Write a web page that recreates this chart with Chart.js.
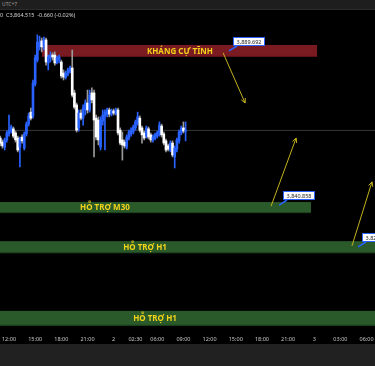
<!DOCTYPE html>
<html>
<head>
<meta charset="utf-8">
<script src="https://cdn.jsdelivr.net/npm/chart.js@4.4.1/dist/chart.umd.min.js"></script>
<style>
  html, body { margin: 0; padding: 0; background: #000; }
  #wrap { position: relative; width: 375px; height: 366px; overflow: hidden; background: #000; }
  #chart { position: absolute; left: 0; top: 0; }
  #topbar { position: absolute; left: 0; top: 0; width: 375px; height: 10px; background: #1e1e1e;
            border-bottom: 1px solid #2c2c2c; box-sizing: border-box; color: #9a9a9a;
            font: 5px "Noto Sans", sans-serif; line-height: 9px; padding-left: 2px; }
  #legend { position: absolute; left: 0; top: 12px; color: #d6d6d6; font: 5.5px "Noto Sans", sans-serif;
            line-height: 7px; white-space: pre; }
  #bottombar { position: absolute; left: 0; top: 344px; width: 375px; height: 22px; background: #212121; }
</style>
</head>
<body>
<div id="wrap">
  <canvas id="chart" width="375" height="366"></canvas>
  <div id="topbar">UTC+7</div>
  <div id="legend">0  C3,864.515  -0.660 (-0.02%)</div>
  <div id="bottombar"></div>
</div>
<script>
// 15-minute candle slots (0 = 12:00 first day)
const slots = [
  -4, -3, -2, -1, 0, 1, 2, 3, 4, 5,
  6, 7, 8, 9, 10, 11, 12, 13, 14, 15,
  16, 17, 18, 19, 20, 21, 22, 23, 24, 25,
  26, 27, 28, 29, 30, 31, 32, 33, 34, 35,
  36, 37, 38, 39, 40, 41, 42, 43, 44, 45,
  46, 47, 48, 49, 50, 51, 52, 53, 54, 55,
  56, 57, 58, 59, 60, 61, 62, 63, 64, 65,
  66, 67, 68, 69, 70, 71, 72, 73, 74, 75,
  76, 77, 78, 79, 80, 81
];

const openPrices = [
  3862.1, 3860.8, 3859.2, 3861.5, 3863.4, 3864.3, 3865.0, 3863.7, 3862.1, 3859.2,
  3862.4, 3858.9, 3863.4, 3866.5, 3870.3, 3869.1, 3879.2, 3886.8, 3891.0, 3892.9,
  3891.3, 3893.2, 3885.9, 3887.5, 3888.4, 3888.4, 3886.2, 3886.8, 3886.2, 3882.7,
  3881.4, 3882.4, 3883.3, 3884.3, 3876.4, 3872.6, 3865.3, 3870.0, 3868.4, 3871.0,
  3873.2, 3871.0, 3876.4, 3876.4, 3868.4, 3867.8, 3859.2, 3867.5, 3869.1, 3869.7,
  3871.0, 3869.7, 3870.7, 3870.0, 3871.0, 3864.6, 3861.5, 3860.8, 3859.2, 3862.1,
  3863.4, 3864.0, 3865.3, 3866.9, 3868.4, 3865.3, 3863.7, 3862.7, 3865.0, 3863.1,
  3861.5, 3862.1, 3862.7, 3863.4, 3865.9, 3863.4, 3861.2, 3859.6, 3858.3, 3860.5,
  3856.1, 3858.6, 3861.2, 3863.7, 3865.3, 3864.3
];
const highPrices = [
  3862.7, 3861.5, 3862.1, 3864.3, 3869.4, 3866.2, 3865.6, 3864.3, 3862.7, 3862.4,
  3863.1, 3864.0, 3867.2, 3870.0, 3871.6, 3880.5, 3888.4, 3894.8, 3894.4, 3893.8,
  3894.1, 3893.8, 3888.4, 3889.4, 3889.1, 3889.4, 3888.1, 3888.4, 3886.8, 3883.7,
  3883.3, 3884.3, 3884.9, 3890.0, 3877.3, 3873.2, 3871.0, 3871.0, 3872.6, 3874.2,
  3877.3, 3877.3, 3878.0, 3877.3, 3869.4, 3868.8, 3868.8, 3871.0, 3871.0, 3871.6,
  3871.6, 3871.3, 3871.3, 3871.6, 3871.6, 3865.3, 3864.0, 3861.5, 3863.1, 3864.6,
  3865.3, 3866.2, 3867.8, 3870.3, 3869.1, 3865.9, 3864.3, 3865.9, 3865.6, 3863.7,
  3863.1, 3863.7, 3864.3, 3867.2, 3866.5, 3864.0, 3861.8, 3860.2, 3861.2, 3861.2,
  3859.6, 3862.1, 3864.6, 3865.9, 3867.2, 3867.2
];
const lowPrices = [
  3859.6, 3858.9, 3858.3, 3860.8, 3862.7, 3863.7, 3862.1, 3860.8, 3857.7, 3852.9,
  3860.5, 3858.3, 3862.7, 3865.9, 3867.8, 3868.4, 3878.6, 3886.2, 3890.0, 3889.4,
  3890.0, 3885.2, 3883.7, 3886.2, 3886.8, 3885.2, 3885.6, 3885.9, 3881.1, 3880.5,
  3880.8, 3881.8, 3882.7, 3875.1, 3871.3, 3864.0, 3864.3, 3867.8, 3866.2, 3869.4,
  3870.0, 3870.3, 3873.2, 3856.1, 3861.5, 3859.9, 3858.3, 3866.2, 3858.3, 3868.8,
  3868.8, 3869.1, 3869.4, 3869.4, 3863.1, 3859.9, 3855.1, 3858.9, 3858.6, 3861.5,
  3862.7, 3863.4, 3864.6, 3866.2, 3864.0, 3860.5, 3861.5, 3862.1, 3861.8, 3860.8,
  3860.8, 3861.5, 3862.1, 3862.7, 3862.4, 3859.9, 3857.7, 3858.0, 3857.7, 3856.1,
  3852.6, 3857.7, 3860.5, 3863.1, 3863.7, 3861.2
];
const closePrices = [
  3860.5, 3859.6, 3861.5, 3863.7, 3864.6, 3865.6, 3862.7, 3861.5, 3858.3, 3861.8,
  3861.2, 3863.4, 3866.5, 3869.1, 3868.4, 3879.5, 3887.5, 3892.5, 3892.5, 3891.0,
  3893.2, 3886.2, 3887.8, 3888.4, 3887.8, 3885.9, 3887.5, 3887.8, 3881.8, 3881.4,
  3882.7, 3883.7, 3884.3, 3875.7, 3871.9, 3864.6, 3870.0, 3868.4, 3871.6, 3873.2,
  3871.0, 3875.7, 3874.2, 3867.8, 3862.4, 3861.5, 3867.8, 3869.4, 3870.3, 3871.0,
  3869.7, 3870.7, 3870.0, 3871.0, 3863.7, 3860.5, 3859.9, 3859.6, 3862.4, 3864.0,
  3864.6, 3865.6, 3867.2, 3868.8, 3864.6, 3863.1, 3862.1, 3865.3, 3862.4, 3861.5,
  3862.4, 3863.1, 3863.7, 3866.2, 3863.1, 3860.5, 3858.3, 3858.6, 3860.5, 3856.7,
  3858.9, 3861.5, 3864.0, 3865.3, 3864.3, 3864.5
];

// time axis labels and the slot they sit on
const tickSlots = [0, 12, 24, 36, 48, 58, 68, 80, 92, 104, 116, 128, 140, 152, 164];
const tickLabels = ['12:00', '15:00', '18:00', '21:00', '2', '02:30', '06:00', '09:00',
                    '12:00', '15:00', '18:00', '21:00', '3', '03:00', '06:00'];

// support / resistance zones
const zoneNames = ['KHÁNG CỰ TĨNH', 'HỖ TRỢ M30', 'HỖ TRỢ H1', 'HỖ TRỢ H1'];
const zoneTop = [3891.6, 3841.8, 3829.4, 3807.3];
const zoneBottom = [3887.8, 3838.3, 3825.6, 3802.6];
const zoneFrom = [15.1, -6, -6, -6];
const zoneTo = [141.3, 138.5, 175, 175];
const zoneLabelSlot = [78.4, 44.0, 62.4, 67.0];

// price callouts
const calloutText = ['3,889.692', '3,840.858', '3,827.616'];
const calloutPrice = [3889.692, 3840.858, 3827.616];
const calloutSlot = [100.9, 123.9, 160.1];

// arrows
const arrowFromSlot = [98.2, 120.2, 157.3];
const arrowFromPrice = [3889.1, 3840.5, 3827.9];
const arrowToSlot = [108.3, 131.7, 166.5];
const arrowToPrice = [3873.2, 3862.1, 3848.2];

const lastPrice = 3864.515;

const BULL = '#2962ff';
const BEAR = '#ffffff';
const isBull = openPrices.map((o, i) => closePrices[i] >= o);

const wickData = slots.map((s, i) => ({ x: s, y: [lowPrices[i], highPrices[i]] }));
const bodyData = slots.map((s, i) => ({ x: s, y: [openPrices[i], closePrices[i]] }));

const overlayPlugin = {
  id: 'overlay',
  beforeDatasetsDraw(chart) {
    const { ctx, chartArea, scales: { x, y } } = chart;
    ctx.save();
    ctx.beginPath();
    ctx.rect(chartArea.left, chartArea.top, chartArea.width, chartArea.height);
    ctx.clip();
    zoneNames.forEach((name, i) => {
      const x1 = x.getPixelForValue(zoneFrom[i]);
      const x2 = x.getPixelForValue(zoneTo[i]);
      const y1 = y.getPixelForValue(zoneTop[i]);
      const y2 = y.getPixelForValue(zoneBottom[i]);
      ctx.fillStyle = i === 0 ? '#7a1b22' : '#2a5a2a';
      ctx.fillRect(x1, y1, x2 - x1, y2 - y1);
      ctx.fillStyle = i === 0 ? '#5c1218' : '#1d401d';
      ctx.fillRect(x1, y2 - 1, x2 - x1, 1);
      ctx.fillStyle = '#f2d41a';
      ctx.font = 'bold 8px "Noto Sans"';
      ctx.textAlign = 'center';
      ctx.textBaseline = 'middle';
      ctx.fillText(name, x.getPixelForValue(zoneLabelSlot[i]), (y1 + y2) / 2 + 0.5);
    });
    ctx.restore();
  },
  afterDatasetsDraw(chart) {
    const { ctx, chartArea, scales: { x, y } } = chart;
    ctx.save();
    ctx.beginPath();
    ctx.rect(chartArea.left, chartArea.top, chartArea.width, chartArea.height);
    ctx.clip();

    // arrows
    ctx.strokeStyle = '#c4b21c';
    ctx.lineWidth = 1;
    arrowFromSlot.forEach((fs, i) => {
      const ax = x.getPixelForValue(fs), ay = y.getPixelForValue(arrowFromPrice[i]);
      const bx = x.getPixelForValue(arrowToSlot[i]), by = y.getPixelForValue(arrowToPrice[i]);
      const ang = Math.atan2(by - ay, bx - ax);
      ctx.beginPath();
      ctx.moveTo(ax, ay);
      ctx.lineTo(bx, by);
      ctx.moveTo(bx - 5 * Math.cos(ang - 0.45), by - 5 * Math.sin(ang - 0.45));
      ctx.lineTo(bx, by);
      ctx.lineTo(bx - 5 * Math.cos(ang + 0.45), by - 5 * Math.sin(ang + 0.45));
      ctx.stroke();
    });

    // price callouts
    calloutText.forEach((txt, i) => {
      const px = x.getPixelForValue(calloutSlot[i]);
      const py = y.getPixelForValue(calloutPrice[i]);
      const bx = Math.round(px + 4), by = Math.round(py - 14);
      ctx.strokeStyle = BULL;
      ctx.lineWidth = 1.5;
      ctx.beginPath();
      ctx.moveTo(px, py);
      ctx.lineTo(bx + 4, by + 9);
      ctx.stroke();
      ctx.fillStyle = '#ffffff';
      ctx.fillRect(bx, by, 32, 9);
      ctx.lineWidth = 1;
      ctx.strokeRect(bx + 0.5, by + 0.5, 31, 8);
      ctx.fillStyle = '#222';
      ctx.font = '5.5px "Noto Sans"';
      ctx.textAlign = 'center';
      ctx.textBaseline = 'middle';
      ctx.fillText(txt, bx + 16, by + 5);
    });
    ctx.restore();
  }
};

new Chart(document.getElementById('chart'), {
  type: 'bar',
  data: {
    datasets: [
      {
        type: 'line',
        data: [{ x: -6, y: lastPrice }, { x: 175, y: lastPrice }],
        borderColor: '#363636',
        borderWidth: 1,
        pointRadius: 0,
        order: 3
      },
      {
        data: wickData,
        backgroundColor: isBull.map(b => (b ? BULL : '#9a9a9a')),
        barThickness: 1,
        grouped: false,
        order: 2
      },
      {
        data: bodyData,
        backgroundColor: isBull.map(b => (b ? BULL : BEAR)),
        barThickness: 2,
        minBarLength: 1,
        grouped: false,
        order: 1
      }
    ]
  },
  options: {
    responsive: false,
    animation: false,
    layout: { padding: { top: 11, bottom: 22, left: 0, right: 0 } },
    plugins: { legend: { display: false }, tooltip: { enabled: false } },
    scales: {
      x: {
        type: 'linear',
        offset: false,
        min: -4.13,
        max: 167.87,
        grid: { display: false, drawTicks: false, offset: false },
        border: { display: false },
        afterFit: axis => { axis.height = 11; axis.paddingLeft = 0; axis.paddingRight = 0; },
        afterBuildTicks: axis => { axis.ticks = tickSlots.map(v => ({ value: v })); },
        ticks: {
          autoSkip: false,
          maxRotation: 0,
          padding: 3,
          color: '#c8c8c8',
          font: { family: 'Noto Sans', size: 5.5 },
          callback: (value, index) => tickLabels[index]
        }
      },
      y: {
        display: false,
        min: 3800.28,
        max: 3902.37
      }
    }
  },
  plugins: [overlayPlugin]
});
</script>
</body>
</html>
